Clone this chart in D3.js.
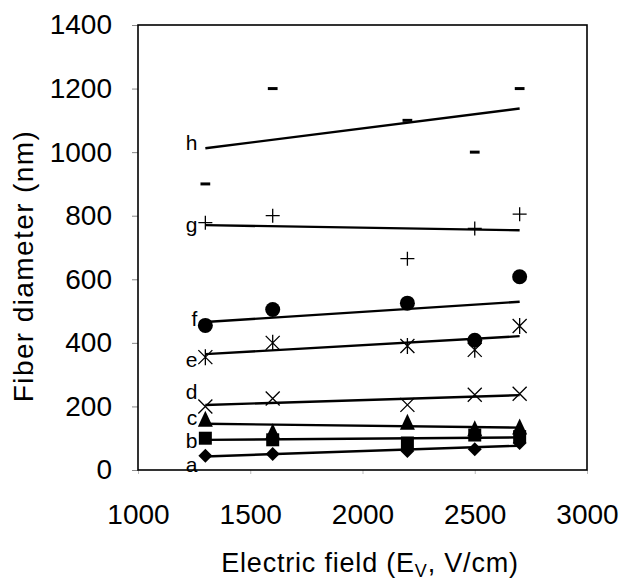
<!DOCTYPE html>
<html lang="en">
<head>
  <meta charset="UTF-8">
  <title>Fiber diameter vs electric field</title>
  <script src="https://d3js.org/d3.v7.min.js"></script>
  <style>
    body { margin: 0; background: #fff; }
    svg { display: block; font-family: "Liberation Sans", Arial, sans-serif; }
  </style>
</head>
<body>
  <svg width="620" height="582"></svg>
  <script>
  // Data: electric field (V/cm) and fiber diameter (nm) per series
  const fieldValues = [1300, 1600, 2200, 2500, 2700];
  const seriesNames = ["a", "b", "c", "d", "e", "f", "g", "h"];
  const seriesA = [45, 50, 60, 65, 85];
  const seriesB = [100, 95, 85, 110, 105];
  const seriesC = [160, 120, 150, 130, 135];
  const seriesD = [200, 225, 205, 237, 240];
  const seriesE = [355, 400, 390, 378, 453];
  const seriesF = [455, 505, 525, 408, 608];
  const seriesG = [778, 800, 665, 760, 805];
  const seriesH = [900, 1200, 1100, 1000, 1200];
  const xTicks = [1000, 1500, 2000, 2500, 3000];
  const yTicks = [0, 200, 400, 600, 800, 1000, 1200, 1400];

  const allSeries = [seriesA, seriesB, seriesC, seriesD, seriesE, seriesF, seriesG, seriesH];
  const markerTypes = ["diamond", "square", "triangle", "times", "asterisk", "circle", "plus", "dash"];
  // small nudges (px) for the series letters, as placed in the original
  const labelDy = [8, 1, -6, -13, 6, -3, 0, -6];

  const svg = d3.select("svg");
  const plotLeft = 138, plotRight = 587, plotTop = 25, plotBottom = 470;

  const x = d3.scaleLinear().domain([1000, 3000]).range([plotLeft, plotRight]);
  const y = d3.scaleLinear().domain([0, 1400]).range([plotBottom, plotTop]);

  // axes
  svg.append("g")
    .attr("transform", `translate(0,${plotBottom})`)
    .call(d3.axisBottom(x).tickValues(xTicks).tickSize(4).tickPadding(30).tickFormat(d3.format("d")))
    .call(g => g.select(".domain").remove())
    .call(g => g.selectAll("line").attr("stroke", "#bbb"))
    .call(g => g.selectAll("text").attr("font-size", 28).attr("fill", "#000").attr("font-family", "Liberation Sans, Arial, sans-serif"));

  svg.append("g")
    .attr("transform", `translate(${plotLeft},0)`)
    .call(d3.axisLeft(y).tickValues(yTicks).tickSize(6).tickPadding(20).tickFormat(d3.format("d")))
    .call(g => g.select(".domain").remove())
    .call(g => g.selectAll("line").attr("stroke", "#888"))
    .call(g => g.selectAll("text").attr("font-size", 28).attr("fill", "#000").attr("font-family", "Liberation Sans, Arial, sans-serif"));

  // plot frame
  svg.append("rect")
    .attr("x", plotLeft).attr("y", plotTop)
    .attr("width", plotRight - plotLeft).attr("height", plotBottom - plotTop)
    .attr("fill", "none").attr("stroke", "#000").attr("stroke-width", 1.6);

  // axis titles
  svg.append("text")
    .attr("transform", `translate(33,266) rotate(-90)`)
    .attr("text-anchor", "middle")
    .attr("font-size", 28)
    .attr("letter-spacing", 1.4)
    .text("Fiber diameter (nm)");

  const xTitle = svg.append("text")
    .attr("x", 370).attr("y", 572)
    .attr("text-anchor", "middle")
    .attr("font-size", 27)
    .attr("letter-spacing", 0.8);
  xTitle.append("tspan").text("Electric field (E");
  xTitle.append("tspan").attr("font-size", 18).attr("dy", 5).text("V");
  xTitle.append("tspan").attr("dy", -5).text(", V/cm)");

  // marker paths
  function markerPath(type, s) {
    const h = s / 2;
    switch (type) {
      case "diamond": return `M0,${-h}L${h},0L0,${h}L${-h},0Z`;
      case "square": return `M${-h},${-h}H${h}V${h}H${-h}Z`;
      case "triangle": return `M0,${-h - 1}L${h},${h}L${-h},${h}Z`;
      case "circle": return d3.symbol(d3.symbolCircle, Math.PI * h * h)();
      case "times": return `M${-h},${-h}L${h},${h}M${-h},${h}L${h},${-h}`;
      case "asterisk": return `M${-h},${-h}L${h},${h}M${-h},${h}L${h},${-h}M0,${-h - 1}V${h + 1}`;
      case "plus": return `M${-h},0H${h}M0,${-h}V${h}`;
      case "dash": return `M${-h * 0.75},0H${h * 0.75}`;
    }
  }
  const strokeOnly = { times: 1.3, asterisk: 1.3, plus: 1.3, dash: 3 };
  const markerSize = { diamond: 14, square: 13, triangle: 15, circle: 15, times: 14, asterisk: 14, plus: 14, dash: 13 };

  // least-squares fit for each series
  function fit(ys) {
    const mx = d3.mean(fieldValues), my = d3.mean(ys);
    const sxy = d3.sum(fieldValues, (v, i) => (v - mx) * (ys[i] - my));
    const sxx = d3.sum(fieldValues, v => (v - mx) * (v - mx));
    const k = sxy / sxx;
    return v => my + k * (v - mx);
  }

  const x0 = d3.min(fieldValues), x1 = d3.max(fieldValues);

  allSeries.forEach((ys, i) => {
    const type = markerTypes[i];
    const f = fit(ys);

    // trend line
    svg.append("line")
      .attr("x1", x(x0)).attr("y1", y(f(x0)))
      .attr("x2", x(x1)).attr("y2", y(f(x1)))
      .attr("stroke", "#000").attr("stroke-width", 2.4);

    // markers
    svg.append("g").selectAll("path")
      .data(ys.map((v, j) => [fieldValues[j], v]))
      .join("path")
      .attr("transform", d => `translate(${x(d[0])},${y(d[1])})`)
      .attr("d", markerPath(type, markerSize[type]))
      .attr("fill", strokeOnly[type] ? "none" : "#000")
      .attr("stroke", "#000")
      .attr("stroke-width", strokeOnly[type] || 0);

    // series letter
    svg.append("text")
      .attr("x", x(x0) - 8)
      .attr("y", y(f(x0)) + labelDy[i])
      .attr("dy", "0.35em")
      .attr("text-anchor", "end")
      .attr("font-size", 21)
      .text(seriesNames[i]);
  });
  </script>
</body>
</html>
